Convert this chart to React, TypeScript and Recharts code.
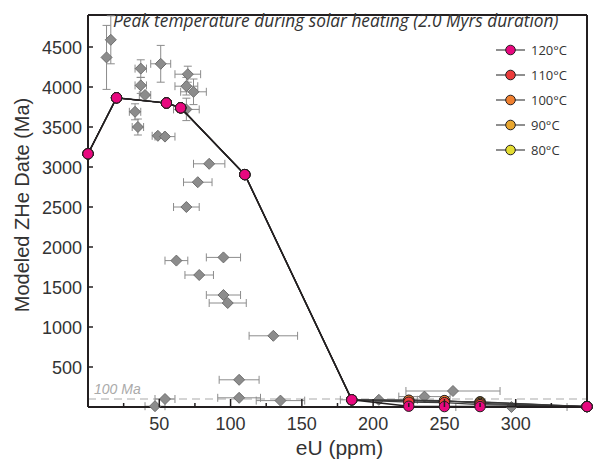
import React from 'react';
import { ScatterChart, Scatter, XAxis, YAxis, ErrorBar, ReferenceLine } from 'recharts';

// measured zircon He dates (grey diamonds)
const obsEU = [13, 16, 37, 51, 37, 40, 33, 35, 49, 54, 70, 69, 74, 69, 85, 77, 69, 62, 95, 78, 95, 98, 130, 106, 106, 54, 47, 135, 204, 236, 256, 297];
const obsDate = [4370, 4590, 4230, 4290, 4020, 3900, 3690, 3500, 3390, 3380, 4160, 4010, 3940, 3720, 3040, 2810, 2500, 1830, 1870, 1650, 1400, 1300, 890, 340, 115, 100, 10, 80, 90, 130, 200, 0];
const obsEUErr = [0, 0, 4, 7, 4, 4, 4, 4, 4, 7, 9, 8, 9, 9, 11, 10, 9, 8, 12, 10, 12, 13, 17, 14, 15, 7, 7, 17, 27, 18, 33, 39];
const obsDateErr = [400, 300, 110, 230, 100, 0, 100, 100, 0, 0, 100, 110, 160, 140, 0, 0, 0, 0, 0, 0, 0, 0, 0, 0, 0, 0, 0, 0, 0, 0, 0, 0];

// modelled dates per peak temperature
const modelEU = [0, 20, 55, 65, 110, 185, 225, 250, 275, 350];
const date120 = [3165, 3865, 3800, 3740, 2905, 90, 10, 5, 5, 5];
const date110 = [3165, 3865, 3800, 3740, 2905, 90, 60, 55, 30, 5];
const date100 = [3165, 3865, 3800, 3740, 2905, 90, 85, 80, 45, 5];
const date90 = [3165, 3865, 3800, 3740, 2905, 90, 80, 75, 60, 5];
const date80 = [3165, 3865, 3800, 3740, 2905, 90, 75, 70, 65, 5];

const temps = ['120°C', '110°C', '100°C', '90°C', '80°C'];
const colors = ['#e8087f', '#ec3b3b', '#f08030', '#e8a62e', '#e3dc32'];
const xTicks = [25, 50, 75, 100, 125, 150, 175, 200, 225, 250, 275, 300, 325];
const yTicks = [500, 1000, 1500, 2000, 2500, 3000, 3500, 4000, 4500];

const obsData = obsEU.map((eu, i) => ({ eu, date: obsDate[i], euErr: obsEUErr[i], dateErr: obsDateErr[i] }));
const modelSeries = [date120, date110, date100, date90, date80].map((dates, k) => ({
  name: temps[k],
  color: colors[k],
  data: modelEU.map((eu, i) => ({ eu, date: dates[i] })),
}));

const AXIS_FONT = '"Liberation Sans", Arial, sans-serif';
const INK = '#231f20';

const XTick = ({ x, y, payload }: any) => {
  const major = payload.value % 50 === 0;
  return (
    <g>
      <line x1={x} y1={y} x2={x} y2={y - (major ? 8 : 4)} stroke={INK} strokeWidth={1.5} />
      {major && (
        <text x={x} y={y + 23} textAnchor="middle" fontSize={18} fill="#333" fontFamily={AXIS_FONT}>
          {payload.value}
        </text>
      )}
    </g>
  );
};

const YTick = ({ x, y, payload }: any) => (
  <g>
    <line x1={x} y1={y} x2={x + 5} y2={y} stroke={INK} strokeWidth={1.5} />
    <text x={x - 6} y={y + 6.5} textAnchor="end" fontSize={18} fill="#333" fontFamily={AXIS_FONT}>
      {payload.value}
    </text>
  </g>
);

const Diamond = ({ cx, cy }: any) => (
  <polygon
    points={`${cx},${cy - 5.5} ${cx + 5.5},${cy} ${cx},${cy + 5.5} ${cx - 5.5},${cy}`}
    fill="#8c8c8c"
    stroke="#6e6e6e"
    strokeWidth={1}
  />
);

const makeDot = (color: string) => ({ cx, cy }: any) => (
  <circle cx={cx} cy={cy} r={5.2} fill={color} stroke={INK} strokeWidth={1} />
);

export default function App() {
  return (
    <div style={{ position: 'absolute', left: 0, top: 0, width: 599, height: 466, overflow: 'hidden', background: '#fff' }}>
      <ScatterChart width={599} height={466} margin={{ top: 15, right: 12, bottom: 9, left: 0 }}>
        <XAxis
          type="number"
          dataKey="eu"
          domain={[0, 350]}
          ticks={xTicks}
          interval={0}
          tickSize={0}
          tickMargin={0}
          tickLine={false}
          tick={<XTick />}
          height={50}
          axisLine={{ stroke: INK, strokeWidth: 2 }}
          label={{
            content: ({ viewBox }: any) => (
              <text
                x={viewBox.x + viewBox.width / 2 + 2}
                y={viewBox.y + 48}
                textAnchor="middle"
                fontSize={21}
                fill="#333"
                fontFamily={AXIS_FONT}
              >
                eU (ppm)
              </text>
            ),
          }}
        />
        <YAxis
          type="number"
          dataKey="date"
          domain={[0, 4900]}
          ticks={yTicks}
          interval={0}
          tickSize={0}
          tickMargin={0}
          tickLine={false}
          tick={<YTick />}
          width={88}
          axisLine={{ stroke: INK, strokeWidth: 2 }}
          label={{
            content: ({ viewBox }: any) => {
              const cx = viewBox.x + 29;
              const cy = viewBox.y + viewBox.height / 2 - 6;
              return (
                <text
                  x={cx}
                  y={cy}
                  transform={`rotate(-90, ${cx}, ${cy})`}
                  textAnchor="middle"
                  fontSize={20}
                  fill="#333"
                  fontFamily={AXIS_FONT}
                >
                  Modeled ZHe Date (Ma)
                </text>
              );
            },
          }}
        />
        <ReferenceLine
          y={100}
          stroke="#aaa"
          strokeWidth={1.2}
          strokeDasharray="8 5"
          label={{
            content: ({ viewBox }: any) => (
              <text x={viewBox.x + 6} y={viewBox.y - 5} fontSize={14} fontStyle="italic" fill="#aaa" fontFamily={AXIS_FONT}>
                100 Ma
              </text>
            ),
          }}
        />
        <ReferenceLine y={4900} stroke={INK} strokeWidth={2} />
        <ReferenceLine x={350} stroke={INK} strokeWidth={2} />
        <Scatter data={obsData} shape={<Diamond />} isAnimationActive={false}>
          <ErrorBar dataKey="euErr" direction="x" width={4} stroke="#8c8c8c" strokeWidth={1} />
          <ErrorBar dataKey="dateErr" direction="y" width={4} stroke="#8c8c8c" strokeWidth={1} />
        </Scatter>
        {[...modelSeries].reverse().map((s) => (
          <Scatter
            key={s.name}
            name={s.name}
            data={s.data}
            line={{ stroke: s.name === '120°C' ? INK : '#3a3a3a', strokeWidth: s.name === '120°C' ? 1.6 : 1.2 }}
            lineType="joint"
            shape={makeDot(s.color)}
            isAnimationActive={false}
          />
        ))}
      </ScatterChart>
      <svg width={599} height={466} style={{ position: 'absolute', left: 0, top: 0, pointerEvents: 'none' }}>
        <text x={113} y={27} fontSize={17.3} fontStyle="italic" fill="#333" fontFamily='"Open Sans", sans-serif'>
          Peak temperature during solar heating (2.0 Myrs duration)
        </text>
        {modelSeries.map((s, i) => {
          const y = 50 + i * 25;
          return (
            <g key={s.name}>
              <line x1={496} y1={y} x2={525} y2={y} stroke="#444" strokeWidth={1.2} />
              <circle cx={510.5} cy={y} r={4.8} fill={s.color} stroke={INK} strokeWidth={1} />
              <text x={531} y={y + 4.7} fontSize={13} fill="#333" fontFamily='"Open Sans", sans-serif'>
                {s.name}
              </text>
            </g>
          );
        })}
      </svg>
    </div>
  );
}
